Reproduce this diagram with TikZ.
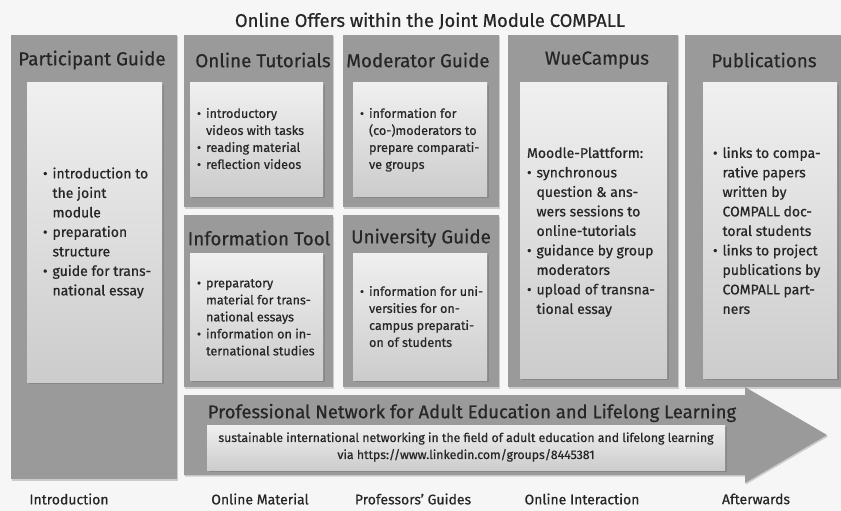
\documentclass[tikz,border=0pt]{standalone}
\usepackage{fontspec}
\setmainfont{Fira Sans}[FakeBold=0.6]
\usetikzlibrary{shadows}
\definecolor{bggray}{HTML}{F6F6F6}
\definecolor{panelgray}{HTML}{9A9A9A}
\definecolor{inkgray}{HTML}{262626}
\newcommand{\panel}[4]{\fill[panelgray,drop shadow={shadow xshift=1pt,shadow yshift=-1.5pt,opacity=.35}] ( #1 , #2 ) rectangle ( #3 , #4 );}
\newcommand{\card}[4]{\shade[top color=black!6,middle color=white,bottom color=black!20,drop shadow={shadow xshift=1.5pt,shadow yshift=-2pt,opacity=.7}] ( #1 , #2 ) rectangle ( #3 , #4 );}
\newcommand{\itm}{\textbullet &}

\begin{document}
\begin{tikzpicture}[x=1pt,y=-1pt,every node/.style={inner sep=0pt,outer sep=0pt,text=inkgray},
    head/.style={font=\fontsize{18.8}{21}\selectfont},
    big/.style={font=\fontsize{14}{19.5}\selectfont,anchor=west},
    small/.style={font=\fontsize{12.6}{17}\selectfont,anchor=west},
    lab/.style={font=\fontsize{14}{16}\selectfont}]
    \fill[bggray] (0,0) rectangle (841,511);
    \panel{11}{35}{177}{479}
    \panel{184}{35}{333}{207}
    \panel{343}{35}{499}{207}
    \panel{184}{215}{333}{387}
    \panel{343}{215}{499}{387}
    \panel{508}{35}{678}{387}
    \panel{685}{35}{841}{387}
    \fill[panelgray,drop shadow={shadow xshift=1pt,shadow yshift=-1.5pt,opacity=.35}] (184,395) -- (745,395) -- (745,387) -- (827,435) -- (745,483) -- (745,475) -- (184,475) -- cycle;
    \card{27}{83}{162}{382}
    \card{190}{83}{323}{196}
    \card{353}{83}{487}{196}
    \card{190}{253}{323}{380}
    \card{353}{253}{487}{380}
    \card{520}{83}{667}{378}
    \card{703}{83}{837}{378}
    \card{207}{425}{725}{470}

    \node[font=\fontsize{18.4}{20}\selectfont] (title) at (430,21) {Online Offers within the Joint Module COMPALL};
    \node[head] (partHead) at (92,60) {Participant Guide};
    \node[head] (tutHead) at (263,60) {Online Tutorials};
    \node[head] (modHead) at (418,60) {Moderator Guide};
    \node[head] (wueHead) at (597,60) {WueCampus};
    \node[head] (pubHead) at (764,60) {Publications};
    \node[head] (infoHead) at (259,238) {Information Tool};
    \node[head] (uniHead) at (421,238) {University Guide};
    \node[font=\fontsize{18.4}{20}\selectfont] (netHead) at (472,413) {Professional Network for Adult Education and Lifelong Learning};

    \node[big] (partText) at (43,233) {\begin{tabular}{@{}l@{\hspace{5pt}}l@{}}
        \itm introduction to\\ & the joint\\ & module\\
        \itm preparation\\ & structure\\
        \itm guide for trans-\\ & national essay\end{tabular}};
    \node[small] (tutText) at (197,140) {\begin{tabular}{@{}l@{\hspace{5pt}}l@{}}
        \itm introductory\\ & videos with tasks\\
        \itm reading material\\
        \itm reflection videos\end{tabular}};
    \node[small] (modText) at (360,140) {\begin{tabular}{@{}l@{\hspace{5pt}}l@{}}
        \itm information for\\ & (co-)moderators to\\ & prepare comparati-\\ & ve groups\end{tabular}};
    \node[small] (infoText) at (197,318) {\begin{tabular}{@{}l@{\hspace{5pt}}l@{}}
        \itm preparatory\\ & material for trans-\\ & national essays\\
        \itm information on in-\\ & ternational studies\end{tabular}};
    \node[small] (uniText) at (360,318) {\begin{tabular}{@{}l@{\hspace{5pt}}l@{}}
        \itm information for uni-\\ & versities for on-\\ & campus preparati-\\ & on of students\end{tabular}};
    \node[big] (wueText) at (527,232) {\begin{tabular}{@{}l@{\hspace{5pt}}l@{}}
        \multicolumn{2}{@{}l@{}}{Moodle-Plattform:}\\
        \itm synchronous\\ & question \& ans-\\ & wers sessions to\\ & online-tutorials\\
        \itm guidance by group\\ & moderators\\
        \itm upload of transna-\\ & tional essay\end{tabular}};
    \node[big] (pubText) at (713,232) {\begin{tabular}{@{}l@{\hspace{5pt}}l@{}}
        \itm links to compa-\\ & rative papers\\ & written by\\ & COMPALL doc-\\ & toral students\\
        \itm links to project\\ & publications by\\ & COMPALL part-\\ & ners\end{tabular}};
    \node[font=\fontsize{12.3}{17}\selectfont,align=center] (netText) at (466,447) {sustainable international networking in the field of adult education and lifelong learning\\ via https://www.linkedin.com/groups/8445381};

    \node[lab] (labIntro) at (69,499) {Introduction};
    \node[lab] (labMat) at (260,499) {Online Material};
    \node[lab] (labProf) at (413,499) {Professors' Guides};
    \node[lab] (labInter) at (582,499) {Online Interaction};
    \node[lab] (labAfter) at (756,499) {Afterwards};
\end{tikzpicture}
\end{document}
